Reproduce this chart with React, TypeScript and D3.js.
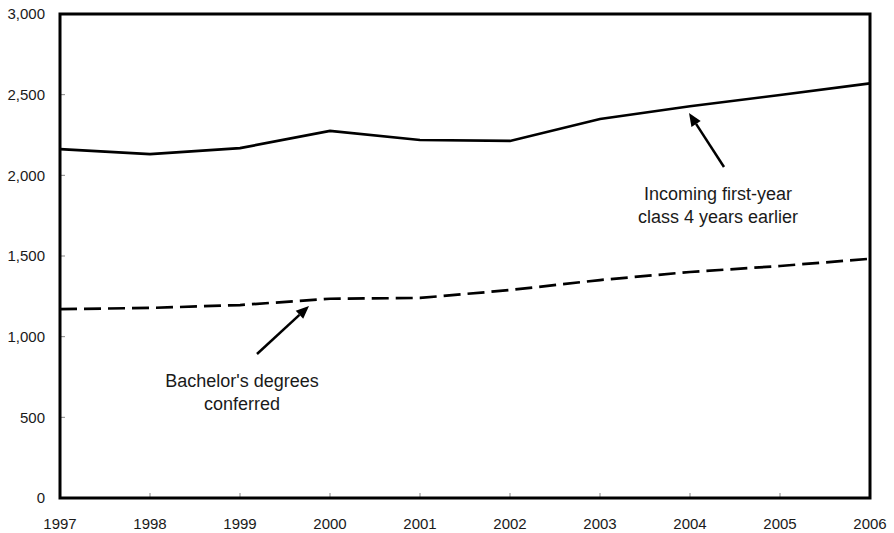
import React from "react";
import * as d3 from "d3";

const years = [1997, 1998, 1999, 2000, 2001, 2002, 2003, 2004, 2005, 2006];
const incoming = [2163, 2132, 2169, 2275, 2219, 2213, 2349, 2428, 2498, 2570];
const bachelors = [1171, 1178, 1196, 1235, 1240, 1289, 1351, 1401, 1438, 1483];
const yTicks = [0, 500, 1000, 1500, 2000, 2500, 3000];

const W = 894, H = 533;
const L = 60, R = 870, T = 14, B = 498;
const FONT = "'Liberation Sans', Arial, sans-serif";

export default function App() {
  const x = d3.scaleLinear().domain([1997, 2006]).range([L, R]);
  const y = d3.scaleLinear().domain([0, 3000]).range([B, T]);
  const line = d3.line<number>().x((_, i) => x(years[i])).y((d) => y(d));

  const arrow = (x1: number, y1: number, x2: number, y2: number) => {
    const ang = Math.atan2(y2 - y1, x2 - x1);
    const len = 13, half = 5.5;
    const bx = x2 - len * Math.cos(ang), by = y2 - len * Math.sin(ang);
    const px = -Math.sin(ang) * half, py = Math.cos(ang) * half;
    return (
      <g>
        <line x1={x1} y1={y1} x2={bx} y2={by} stroke="#000" strokeWidth={2.5} />
        <polygon points={`${x2},${y2} ${bx + px},${by + py} ${bx - px},${by - py}`} fill="#000" />
      </g>
    );
  };

  return (
    <svg width={W} height={H} style={{ position: "absolute", left: 0, top: 0, background: "#fff" }}>
      {/* ticks */}
      {yTicks.map((t) => (
        <g key={"y" + t}>
          <line x1={L} x2={L + 5} y1={y(t)} y2={y(t)} stroke="#888" strokeWidth={1} />
          <text x={45} y={y(t)} dy="0.35em" textAnchor="end" fontFamily={FONT} fontSize={15} fill="#1a1a1a">
            {d3.format(",")(t)}
          </text>
        </g>
      ))}
      {years.map((yr) => (
        <g key={"x" + yr}>
          <line x1={x(yr)} x2={x(yr)} y1={B} y2={B - 5} stroke="#888" strokeWidth={1} />
          <text x={x(yr)} y={529} textAnchor="middle" fontFamily={FONT} fontSize={15} fill="#1a1a1a">
            {yr}
          </text>
        </g>
      ))}
      <path d={line(incoming) || ""} fill="none" stroke="#000" strokeWidth={2.7} />
      <path d={line(bachelors) || ""} fill="none" stroke="#000" strokeWidth={2.7} strokeDasharray="17 7" />
      <rect x={L} y={T} width={R - L} height={B - T} fill="none" stroke="#000" strokeWidth={3} />
      {arrow(724, 167, 689, 113)}
      {arrow(257, 354, 309, 306)}
      <text x={718} y={200} textAnchor="middle" fontFamily={FONT} fontSize={18} fill="#1a1a1a">
        Incoming first-year
      </text>
      <text x={718} y={223} textAnchor="middle" fontFamily={FONT} fontSize={18} fill="#1a1a1a">
        class 4 years earlier
      </text>
      <text x={242} y={387} textAnchor="middle" fontFamily={FONT} fontSize={18} fill="#1a1a1a">
        Bachelor's degrees
      </text>
      <text x={242} y={410} textAnchor="middle" fontFamily={FONT} fontSize={18} fill="#1a1a1a">
        conferred
      </text>
    </svg>
  );
}
